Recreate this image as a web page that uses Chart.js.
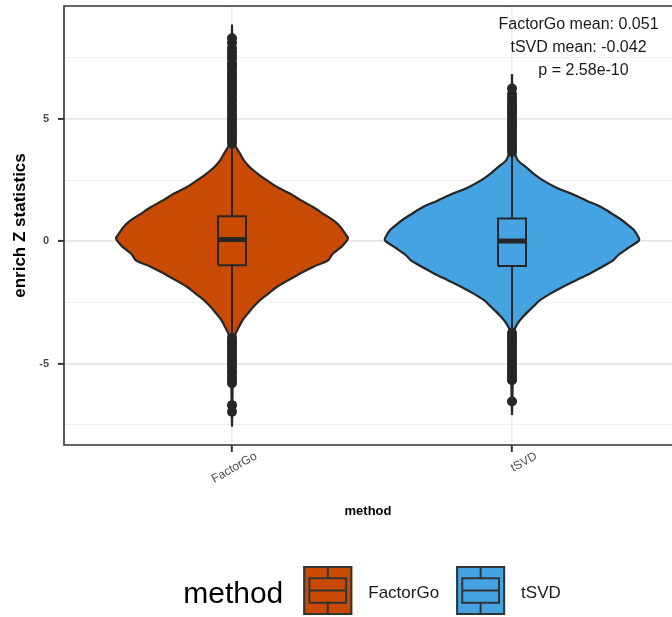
<!DOCTYPE html>
<html>
<head>
<meta charset="utf-8">
<script src="https://cdn.jsdelivr.net/npm/chart.js@4.4.1/dist/chart.umd.min.js"></script>
<style>
html,body{margin:0;padding:0;background:#fff;overflow:hidden;}
#wrap{width:672px;height:617px;position:relative;}
</style>
</head>
<body>
<div id="wrap"><canvas id="c"></canvas></div>
<script>
// ---------------- data ----------------
const categories = ['FactorGo', 'tSVD'];

// violin outline: y value and half-width (in category units)
const fgDensityY = [8.86, 7.0, 5.0, 4.3, 3.92, 3.58, 3.30, 3.03, 2.75, 2.49, 2.2, 1.95, 1.65, 1.40, 1.10, 0.86, 0.6, 0.31, 0.15, 0.04, -0.2, -0.37, -0.55, -0.78, -1.05, -1.32, -1.6, -1.86, -2.15, -2.41, -2.7, -2.95, -3.2, -3.5, -3.84, -4.5, -6.0, -7.58];
const fgDensityW = [0, 0.001, 0.002, 0.004, 0.011, 0.029, 0.043, 0.064, 0.093, 0.125, 0.164, 0.207, 0.25, 0.289, 0.329, 0.361, 0.386, 0.404, 0.414, 0.411, 0.393, 0.375, 0.357, 0.343, 0.289, 0.243, 0.2, 0.161, 0.129, 0.1, 0.075, 0.057, 0.039, 0.025, 0.011, 0.004, 0.002, 0];
const tsDensityY = [6.84, 5.0, 4.0, 3.58, 3.31, 3.03, 2.75, 2.49, 2.2, 1.95, 1.65, 1.40, 1.1, 0.86, 0.6, 0.45, 0.2, 0.04, -0.23, -0.45, -0.57, -0.78, -1.05, -1.32, -1.59, -1.86, -2.13, -2.41, -2.68, -3.09, -3.4, -3.70, -4.5, -6.0, -7.1];
const tsDensityW = [0, 0.002, 0.004, 0.011, 0.021, 0.05, 0.079, 0.111, 0.157, 0.211, 0.268, 0.318, 0.361, 0.393, 0.421, 0.436, 0.45, 0.454, 0.421, 0.393, 0.379, 0.361, 0.321, 0.279, 0.229, 0.182, 0.139, 0.1, 0.075, 0.039, 0.018, 0.007, 0.004, 0.002, 0];

// boxplot statistics per category
const boxQ1 = [-0.98, -1.01];
const boxMedian = [0.07, 0.01];
const boxQ3 = [1.02, 0.93];
const whiskerLow = [-3.9, -3.72];
const whiskerHigh = [3.92, 3.58];

// outliers per category
const fgOutliers = [4.0, 4.12, 4.25, 4.38, 4.5, 4.63, 4.77, 4.9, 5.02, 5.15, 5.3, 5.42, 5.55, 5.7, 5.83, 5.97, 6.1, 6.24, 6.37, 6.5, 6.64, 6.78, 6.9, 7.04, 7.18, 7.27, 7.45, 7.6, 7.75, 7.9, 8.12, 8.3,
  -3.95, -4.08, -4.2, -4.33, -4.47, -4.6, -4.72, -4.86, -5.0, -5.13, -5.27, -5.4, -5.55, -5.68, -5.8, -6.7, -6.97];
const tsOutliers = [3.65, 3.78, 3.9, 4.03, 4.16, 4.3, 4.43, 4.56, 4.7, 4.82, 4.95, 5.08, 5.22, 5.35, 5.48, 5.6, 5.74, 5.87, 6.02, 6.25,
  -3.75, -3.88, -4.0, -4.14, -4.27, -4.4, -4.53, -4.67, -4.8, -4.93, -5.06, -5.2, -5.33, -5.46, -5.58, -5.68, -6.55];

// annotation values
const groupMeans = [0.051, -0.042];
const pValue = '2.58e-10';

// y tick values (major + minor grid)
const yTickValues = [-7.5, -5, -2.5, 0, 2.5, 5, 7.5];

// ---------------- styles ----------------
const FONT = '"Liberation Sans", Arial, Helvetica, sans-serif';
const fills = ['#C94B03', '#46A3E2'];
const ink = '#262626';
const boxHalf = 0.05;

Chart.defaults.font.family = FONT;

function violinData(cx, ys, ws) {
  const right = ys.map((y, i) => ({x: cx + ws[i], y: y}));
  const left = ys.map((y, i) => ({x: cx - ws[i], y: y})).reverse();
  return right.concat(left);
}

const densY = [fgDensityY, tsDensityY];
const densW = [fgDensityW, tsDensityW];
const outl = [fgOutliers, tsOutliers];

const datasets = [];
categories.forEach((cat, i) => {
  const cx = i + 1;
  datasets.push({
    label: cat + ' violin',
    data: violinData(cx, densY[i], densW[i]),
    backgroundColor: fills[i],
    borderColor: ink,
    borderWidth: 2.2,
    fill: 'shape',
    tension: 0.3,
    pointRadius: 0,
    order: 10
  });
  datasets.push({
    label: cat + ' whisker',
    data: [{x: cx, y: whiskerHigh[i]}, {x: cx, y: boxQ3[i]}, {x: cx, y: null}, {x: cx, y: boxQ1[i]}, {x: cx, y: whiskerLow[i]}],
    borderColor: ink,
    borderWidth: 2,
    fill: false,
    pointRadius: 0,
    spanGaps: false,
    order: 8
  });
  datasets.push({
    label: cat + ' box',
    data: [{x: cx - boxHalf, y: boxQ1[i]}, {x: cx + boxHalf, y: boxQ1[i]}, {x: cx + boxHalf, y: boxQ3[i]}, {x: cx - boxHalf, y: boxQ3[i]}, {x: cx - boxHalf, y: boxQ1[i]}],
    borderColor: ink,
    borderWidth: 2,
    borderJoinStyle: 'miter',
    fill: false,
    pointRadius: 0,
    order: 7
  });
  datasets.push({
    label: cat + ' median',
    data: [{x: cx - boxHalf, y: boxMedian[i]}, {x: cx + boxHalf, y: boxMedian[i]}],
    borderColor: ink,
    borderWidth: 5,
    fill: false,
    pointRadius: 0,
    order: 6
  });
  datasets.push({
    label: cat + ' outliers',
    data: outl[i].map(v => ({x: cx, y: v})),
    showLine: false,
    pointRadius: 5,
    pointBorderWidth: 0,
    pointBackgroundColor: ink,
    pointBorderColor: ink,
    order: 5
  });
});

const panelPlugin = {
  id: 'panel',
  afterDatasetsDraw(chart) {
    const {ctx, chartArea: a} = chart;
    ctx.save();
    ctx.strokeStyle = '#333333';
    ctx.lineWidth = 1.6;
    ctx.beginPath();
    ctx.moveTo(chart.width + 2, a.top);
    ctx.lineTo(a.left, a.top);
    ctx.lineTo(a.left, a.bottom);
    ctx.lineTo(chart.width + 2, a.bottom);
    ctx.stroke();
    ctx.restore();
  }
};

const annotationPlugin = {
  id: 'annot',
  afterDraw(chart) {
    const {ctx, chartArea: a} = chart;
    ctx.save();
    ctx.font = '16px ' + FONT;
    ctx.fillStyle = '#1a1a1a';
    ctx.textAlign = 'center';
    ctx.textBaseline = 'alphabetic';
    const lines = [
      categories[0] + ' mean: ' + groupMeans[0],
      categories[1] + ' mean: ' + groupMeans[1],
      'p = ' + pValue
    ];
    const xs = [578.5, 578.5, 583.5];
    const ys = [22.5, 45.8, 69];
    lines.forEach((t, k) => ctx.fillText(t, xs[k], a.top + ys[k]));
    ctx.restore();
  }
};

const legendPlugin = {
  id: 'gglegend',
  afterDraw(chart) {
    const ctx = chart.ctx;
    const xs = chart.scales.x;
    const cx = xs.getPixelForValue(1.5);
    ctx.save();
    ctx.font = '30px ' + FONT;
    const titleW = ctx.measureText('method').width;
    ctx.font = '17px ' + FONT;
    const labW = categories.map(c => ctx.measureText(c).width);
    const key = 49, gTitle = 20, gKey = 16, gItem = 17;
    const total = titleW + gTitle + (key + gKey) * 2 + labW[0] + gItem + labW[1];
    let x = cx - total / 2;
    const keyTop = chart.height - 51;
    ctx.fillStyle = '#000';
    ctx.font = '30px ' + FONT;
    ctx.textAlign = 'left';
    ctx.textBaseline = 'alphabetic';
    ctx.fillText('method', x, keyTop + 36.5);
    x += titleW + gTitle;
    categories.forEach((c, i) => {
      const s = key;
      ctx.fillStyle = fills[i];
      ctx.fillRect(x, keyTop, s, s);
      ctx.strokeStyle = '#333333';
      ctx.lineWidth = 2;
      ctx.strokeRect(x + 1, keyTop + 1, s - 2, s - 2);
      ctx.strokeRect(x + 0.125 * s, keyTop + 0.25 * s, 0.75 * s, 0.5 * s);
      ctx.beginPath();
      ctx.moveTo(x + 0.125 * s, keyTop + 0.5 * s);
      ctx.lineTo(x + 0.875 * s, keyTop + 0.5 * s);
      ctx.moveTo(x + 0.5 * s, keyTop + 1);
      ctx.lineTo(x + 0.5 * s, keyTop + 0.25 * s);
      ctx.moveTo(x + 0.5 * s, keyTop + 0.75 * s);
      ctx.lineTo(x + 0.5 * s, keyTop + s - 1);
      ctx.stroke();
      x += s + gKey;
      ctx.font = '17px ' + FONT;
      ctx.fillStyle = '#1a1a1a';
      ctx.fillText(c, x, keyTop + 32);
      x += labW[i] + gItem;
    });
    ctx.restore();
  }
};

new Chart(document.getElementById('c'), {
  type: 'line',
  data: {datasets: datasets},
  options: {
    responsive: true,
    maintainAspectRatio: false,
    animation: false,
    events: [],
    layout: {autoPadding: false, padding: {left: 0, right: 0, top: 6, bottom: 92}},
    plugins: {legend: {display: false}, tooltip: {enabled: false}},
    scales: {
      x: {
        type: 'linear',
        min: 0.4,
        max: 2.5714,
        bounds: 'data',
        afterBuildTicks: s => { s.ticks = categories.map((c, i) => ({value: i + 1})); },
        afterFit: s => { s.height = 80; s.paddingLeft = 0; s.paddingRight = 0; },
        ticks: {
          callback: v => categories[v - 1] ?? '',
          minRotation: 30, maxRotation: 30,
          autoSkip: false,
          labelOffset: 24,
          padding: -3,
          color: '#4d4d4d',
          font: {size: 12, family: FONT}
        },
        grid: {color: '#ebebeb', lineWidth: 1.6, tickLength: 7, tickColor: '#333333', tickWidth: 2},
        border: {display: false},
        title: {display: true, text: 'method', color: '#000', font: {size: 13, weight: 'bold', family: FONT}, padding: {top: 0, bottom: 6}}
      },
      y: {
        type: 'linear',
        min: -8.33,
        max: 9.62,
        bounds: 'data',
        afterBuildTicks: s => { s.ticks = yTickValues.map(v => ({value: v})); },
        afterFit: s => { s.width = 64; s.paddingTop = 0; s.paddingBottom = 0; },
        ticks: {
          callback: v => (v % 5 === 0 ? String(v) : ''),
          color: '#4d4d4d',
          padding: 9,
          font: {size: 11, weight: 'bold', family: FONT}
        },
        grid: {
          color: ctx => (ctx.tick && ctx.tick.value % 5 === 0 ? '#e6e6e6' : '#efefef'),
          lineWidth: ctx => (ctx.tick && ctx.tick.value % 5 === 0 ? 1.8 : 1),
          tickColor: ctx => (ctx.tick && ctx.tick.value % 5 === 0 ? '#333333' : 'rgba(0,0,0,0)'),
          tickLength: 6,
          tickWidth: 2
        },
        border: {display: false},
        title: {display: true, text: 'enrich Z statistics', color: '#000', font: {size: 17, weight: 'bold', family: FONT}, padding: {top: 10, bottom: 0}}
      }
    }
  },
  plugins: [panelPlugin, annotationPlugin, legendPlugin]
});
</script>
</body>
</html>
